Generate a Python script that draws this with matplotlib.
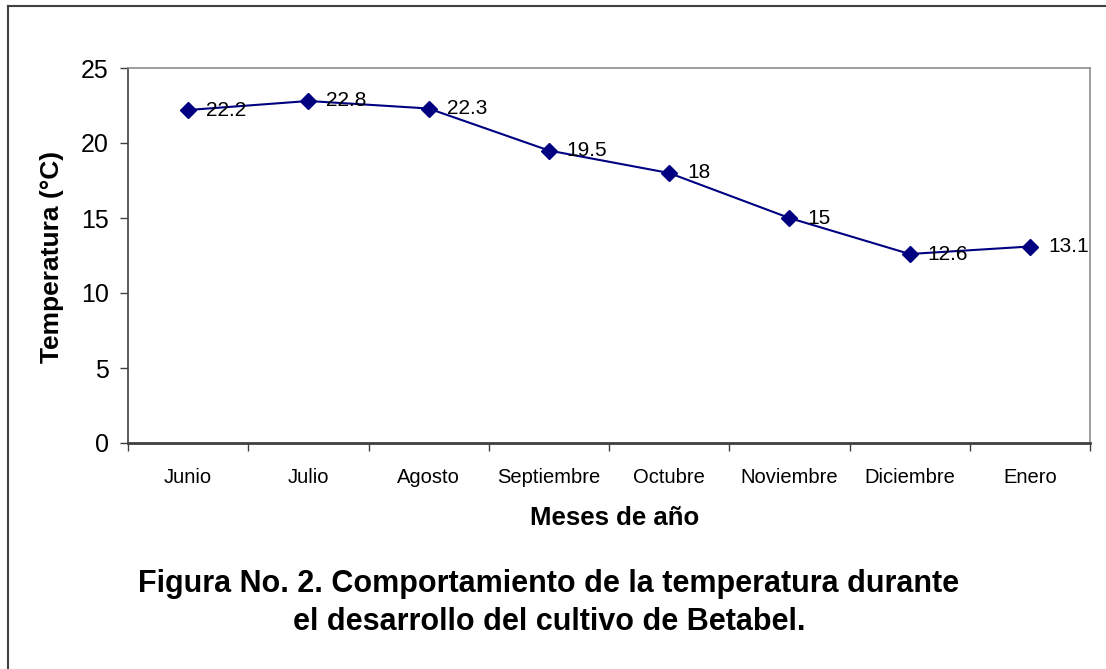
import matplotlib.pyplot as plt
from matplotlib.lines import Line2D

meses = ['Junio', 'Julio', 'Agosto', 'Septiembre', 'Octubre',
         'Noviembre', 'Diciembre', 'Enero']
temperatura = [22.2, 22.8, 22.3, 19.5, 18, 15, 12.6, 13.1]
etiquetas = ['22.2', '22.8', '22.3', '19.5', '18', '15', '12.6', '13.1']
y_ticks = [0, 5, 10, 15, 20, 25]
titulo = ['Figura No. 2. Comportamiento de la temperatura durante',
          'el desarrollo del cultivo de Betabel.']

plt.rcParams['font.family'] = ['Liberation Sans', 'DejaVu Sans']

W, H = 1106, 669
fig = plt.figure(figsize=(W / 100, H / 100), dpi=100)
ax = fig.add_axes([128 / W, 1 - 443 / H, (1090 - 128) / W, (443 - 68) / H])

x = list(range(len(meses)))
ax.plot(x, temperatura, color='#000080', linewidth=1.5,
        marker='D', markersize=8, markerfacecolor='#000080',
        markeredgecolor='#000080')

for xi, yi, lab in zip(x, temperatura, etiquetas):
    ax.annotate(lab, (xi, yi), xytext=(18, 0), textcoords='offset pixels',
                ha='left', va='center', fontsize=15, color='black')

ax.set_xlim(-0.5, len(meses) - 0.5)
ax.set_ylim(0, 25)
ax.set_yticks(y_ticks)
ax.tick_params(axis='y', labelsize=18, length=6, width=1, color='#404040',
               pad=8)

# ticks on category boundaries, labels at category centres
ax.set_xticks([i - 0.5 for i in range(len(meses) + 1)])
ax.set_xticklabels([])
ax.set_xticks(x, minor=True)
ax.set_xticklabels(meses, minor=True, fontsize=14.5)
ax.tick_params(axis='x', which='major', length=6, width=1, color='#404040')
ax.tick_params(axis='x', which='minor', length=0, pad=18)

for side in ['top', 'right']:
    ax.spines[side].set_color('#8c8c8c')
    ax.spines[side].set_linewidth(1.2)
ax.spines['left'].set_color('#404040')
ax.spines['left'].set_linewidth(1.2)
ax.spines['bottom'].set_color('#404040')
ax.spines['bottom'].set_linewidth(2)

fig.text(615 / W, 1 - 525 / H, 'Meses de año', ha='center', va='baseline',
         fontsize=18.5, fontweight='bold')
fig.text(52 / W, 1 - 257 / H, 'Temperatura (°C)', ha='center', va='center',
         rotation=90, fontsize=19, fontweight='bold')
for linea, base in zip(titulo, [592, 630]):
    fig.text(549 / W, 1 - base / H, linea, ha='center', va='baseline',
             fontsize=22, fontweight='bold')

# outer frame (left and top edges visible)
fig.add_artist(Line2D([8 / W, 8 / W], [0, 1 - 6 / H], color='#404040',
                      linewidth=1.5, transform=fig.transFigure))
fig.add_artist(Line2D([8 / W, 1], [1 - 6 / H, 1 - 6 / H], color='#404040',
                      linewidth=1.5, transform=fig.transFigure))

fig.savefig('out.png', dpi=100)
